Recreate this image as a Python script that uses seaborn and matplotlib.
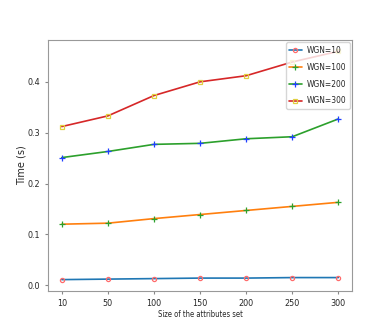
import pandas as pd
import seaborn as sns
import matplotlib.pyplot as plt

# 数据
sizes = ['10', '50', '100', '150', '200', '250', '300']
wgn10 = [0.011, 0.012, 0.013, 0.014, 0.014, 0.015, 0.015]
wgn100 = [0.120, 0.122, 0.131, 0.139, 0.147, 0.155, 0.163]
wgn200 = [0.251, 0.263, 0.277, 0.279, 0.288, 0.292, 0.327]
wgn300 = [0.312, 0.333, 0.373, 0.400, 0.412, 0.439, 0.460]

data = pd.DataFrame({'Size': sizes, 'WGN=10': wgn10, 'WGN=100': wgn100,
                     'WGN=200': wgn200, 'WGN=300': wgn300})

sns.set_style('ticks')
plt.rcParams['font.family'] = ['DejaVu Sans']
plt.rcParams['font.stretch'] = 'condensed'

fig, ax = plt.subplots(figsize=(3.9, 3.27), dpi=100)

# 线条颜色, 标记, 标记颜色
styles = {
    'WGN=10': ('#1f77b4', 'o', 'none', '#ff6b6b', 3),
    'WGN=100': ('#ff7f0e', '+', '#2ca02c', '#2ca02c', 4),
    'WGN=200': ('#2ca02c', '+', '#1f3fff', '#1f3fff', 4),
    'WGN=300': ('#d62728', 's', 'none', '#e0d040', 3),
}
for name, (c, m, mfc, mec, ms) in styles.items():
    sns.lineplot(x='Size', y=name, data=data, ax=ax, color=c, marker=m,
                 markerfacecolor=mfc, markeredgecolor=mec, markersize=ms,
                 markeredgewidth=0.9, linewidth=1.2, label=name)

ax.set_xlabel('Size of the attributes set', fontsize=5.5, labelpad=2)
ax.set_ylabel('Time (s)', fontsize=7, labelpad=1, fontstretch='normal')
ax.tick_params(labelsize=6.5, length=2, color='#888888')
for s in ax.spines.values():
    s.set_visible(True)
    s.set_color('#999999')
ax.legend(loc='upper right', fontsize=6, frameon=True, borderaxespad=0.3,
          labelspacing=0.95, handlelength=1.5, handletextpad=0.6)

plt.subplots_adjust(left=0.123, right=0.903, top=0.878, bottom=0.110)
plt.savefig('out.png', dpi=100)
